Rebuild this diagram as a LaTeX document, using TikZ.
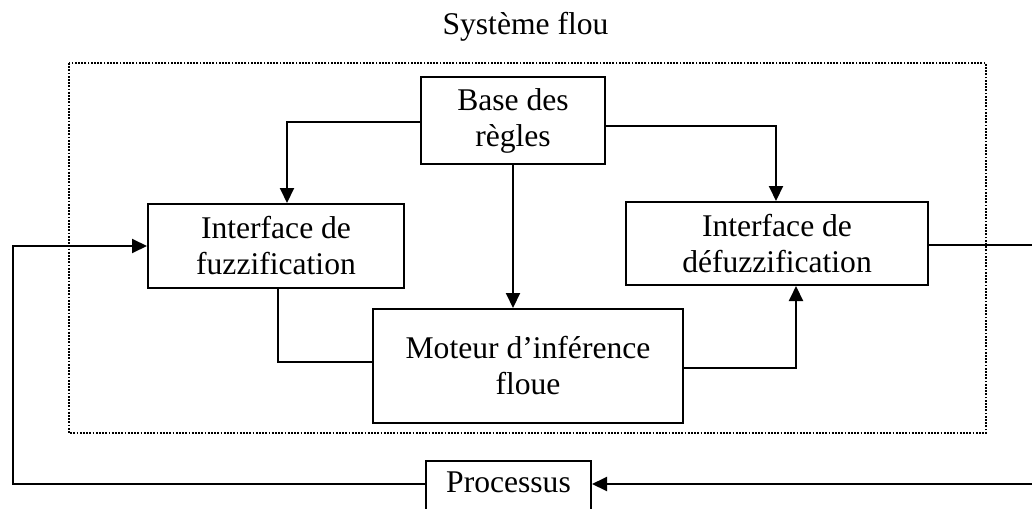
\documentclass[tikz,border=0pt]{standalone}
\usepackage{fontspec}
\setmainfont{Liberation Serif}
\usetikzlibrary{arrows.meta}
\begin{document}
\begin{tikzpicture}[x=0.5pt,y=-0.5pt,
  txt/.style={font=\fontsize{15.8}{18}\selectfont},
  box/.style={txt,draw,line width=1pt,align=center,inner sep=0pt},
  link/.style={line width=1pt},
  arr/.style={link,-{Triangle[length=7.5pt,width=7pt]}},
  frame/.style={line width=0.9pt,dash pattern=on 0.9pt off 0.7pt}]
\useasboundingbox (0,0) rectangle (1032,508);
\clip (0,0) rectangle (1032,508);
\node[txt,anchor=base] (title) at (525.5,35) {Système flou};
\draw[frame] (69,63) rectangle (986,433);
\node[box,minimum width=92pt,minimum height=43.5pt] (base) at (513,120.5) {Base des\\règles};
\node[box,minimum width=128pt,minimum height=42pt] (fuzz) at (276,246) {Interface de\\fuzzification};
\node[box,minimum width=151pt,minimum height=41.5pt] (defuzz) at (777,243.5) {Interface de\\défuzzification};
\node[box,minimum width=155pt,minimum height=57pt] (moteur) at (528,366) {Moteur d’inférence\\floue};
\node[box,minimum width=82.5pt,text height=15.5pt,text depth=20pt,anchor=base] (proc) at (508.5,492) {Processus};
\draw[arr] (base.west |- 0,122) -| (287,0 |- fuzz.north);
\draw[arr] (base.east |- 0,126) -| (776,0 |- defuzz.north);
\draw[arr] (base.south) -- (base.south |- moteur.north);
\draw[link] (278,0 |- fuzz.south) |- (moteur.west |- 0,362);
\draw[arr] (moteur.east |- 0,368) -| (796,0 |- defuzz.south);
\coordinate (r) at (1036,0);
\coordinate (l) at (13,0);
\draw[arr] (defuzz.east |- 0,245) -- (r |- 0,245) -- (r |- 0,484) -- (proc.east |- 0,484);
\draw[arr] (proc.west |- 0,484) -- (l |- 0,484) -- (l |- fuzz.west) -- (fuzz.west);
\end{tikzpicture}
\end{document}
